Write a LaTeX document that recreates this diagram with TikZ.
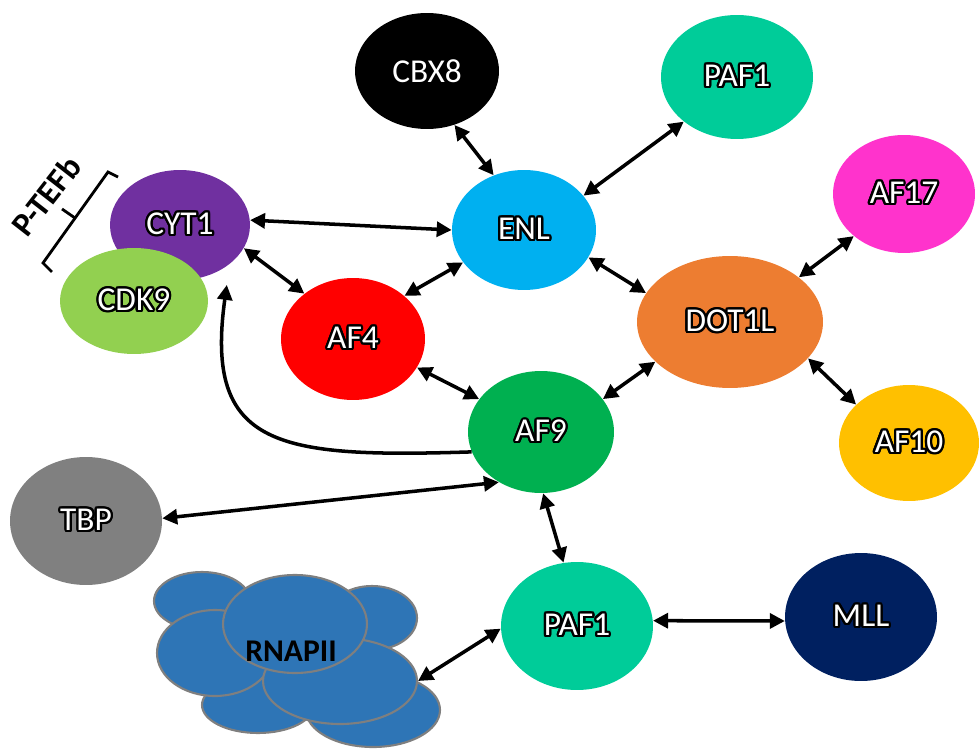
\documentclass[tikz,border=0pt]{standalone}
\usepackage{fontspec}
\setmainfont{Carlito}
\usepackage{contour}
\contourlength{1.3pt}
\usetikzlibrary{positioning, shapes.geometric, arrows.meta}

\definecolor{paf_teal}{RGB}{0,204,153}
\definecolor{enl_blue}{RGB}{0,176,240}
\definecolor{cyt_purple}{RGB}{112,48,160}
\definecolor{cdk_green}{RGB}{146,208,80}
\definecolor{af17_pink}{RGB}{255,51,204}
\definecolor{dot_orange}{RGB}{237,125,49}
\definecolor{af9_green}{RGB}{0,176,80}
\definecolor{af10_yellow}{RGB}{255,192,0}
\definecolor{tbp_gray}{RGB}{128,128,128}
\definecolor{mll_navy}{RGB}{0,32,96}
\definecolor{pol_blue}{RGB}{46,117,182}
\definecolor{pol_edge}{RGB}{127,127,127}

\begin{document}
\begin{tikzpicture}[x=0.02cm, y=0.02cm]


\tikzstyle{node_style} = [ellipse, inner sep=0pt, text=white, font=\fontsize{19}{22}\selectfont]
\tikzstyle{blob_style} = [ellipse, inner sep=0pt, fill=pol_blue, draw=pol_edge, line width=1.2pt]
\tikzstyle{edge_style} = [draw=black, line width=2pt, {Triangle[length=8.5pt,width=8.5pt]}-{Triangle[length=8.5pt,width=8.5pt]}]
\tikzstyle{curve_style} = [draw=black, line width=2pt, -{Triangle[length=8.5pt,width=8.5pt]}]
\tikzstyle{bracket_style} = [draw=black, line width=1.6pt]

\useasboundingbox (0,0) rectangle (979,-749);

\node[node_style, fill=black, minimum width=2.88cm, minimum height=2.32cm] (cbx8) at (427,-71) {CBX8};
\node[node_style, fill=paf_teal, minimum width=3.04cm, minimum height=2.48cm] (paf1_top) at (737,-77) {\contour{black}{PAF1}};
\node[node_style, fill=enl_blue, minimum width=2.88cm, minimum height=2.4cm] (enl) at (524,-230) {\contour{black}{ENL}};
\node[node_style, fill=cyt_purple, minimum width=2.8cm, minimum height=2.2cm] (cyt1) at (180,-225) {\contour{black}{CYT1}};
\node[node_style, fill=cdk_green, minimum width=2.96cm, minimum height=2.12cm] (cdk9) at (134,-301) {\contour{black}{CDK9}};
\node[node_style, fill=af17_pink, minimum width=2.84cm, minimum height=2.36cm] (af17) at (904,-194) {\contour{black}{AF17}};
\node[node_style, fill=dot_orange, minimum width=3.72cm, minimum height=2.64cm] (dot1l) at (730,-322) {\contour{black}{DOT1L}};
\node[node_style, fill=red, minimum width=2.88cm, minimum height=2.44cm] (af4) at (353,-339) {\contour{black}{AF4}};
\node[node_style, fill=af9_green, minimum width=2.92cm, minimum height=2.44cm] (af9) at (541,-432) {\contour{black}{AF9}};
\node[node_style, fill=af10_yellow, minimum width=2.8cm, minimum height=2.32cm] (af10) at (909,-443) {\contour{black}{AF10}};
\node[node_style, fill=tbp_gray, minimum width=3.04cm, minimum height=2.56cm] (tbp) at (86,-521) {\contour{black}{TBP}};
\node[node_style, fill=paf_teal, minimum width=3.04cm, minimum height=2.56cm] (paf1_bot) at (577,-626) {\contour{black}{PAF1}};
\node[node_style, fill=mll_navy, minimum width=3.04cm, minimum height=2.56cm] (mll) at (861,-617) {\contour{black}{MLL}};

% RNAPII cluster
\node[blob_style, minimum width=1.92cm, minimum height=1.16cm] (blob1) at (202,-601) {};
\node[blob_style, minimum width=1.8cm, minimum height=1.28cm] (blob2) at (372,-618) {};
\node[blob_style, minimum width=2.24cm, minimum height=1.12cm] (blob5) at (258,-705) {};
\node[blob_style, minimum width=2.68cm, minimum height=1.48cm] (blob6) at (373,-710) {};
\node[blob_style, minimum width=2.32cm, minimum height=1.72cm] (blob3) at (215,-653) {};
\node[blob_style, minimum width=3.08cm, minimum height=1.72cm] (blob7) at (340,-681) {};
\node[blob_style, minimum width=2.88cm, minimum height=1.96cm] (blob4) at (295,-624) {};
\node[font=\bfseries\fontsize{18}{20}\selectfont] (rnapii) at (291,-651) {RNAPII};

% P-TEFb bracket
\node[rotate=52, font=\bfseries\fontsize{19}{21}\selectfont] (ptefb) at (46,-196) {P-TEFb};
\draw[bracket_style] (118,-177) -- (108,-172) -- (43,-263) -- (52,-272);
\draw[bracket_style] (75,-218) -- (62,-209);

\draw[edge_style]  (cbx8.297) -- (enl.119);
\draw[edge_style]  (paf1_top.220) -- (enl.30);
\draw[edge_style]  (cyt1.4) -- (enl.180);
\draw[edge_style]  (cyt1.340) -- (af4.137);
\draw[edge_style]  (enl.208) -- (af4.40);
\draw[edge_style]  (enl.337) -- (dot1l.161);
\draw[edge_style]  (af17.220) -- (dot1l.33);
\draw[edge_style]  (dot1l.335) -- (af10.144);
\draw[edge_style]  (af4.336) -- (af9.152);
\draw[edge_style]  (dot1l.208) -- (af9.28);
\draw[edge_style]  (tbp.2) -- (af9.230);
\draw[edge_style]  (af9.272) -- (paf1_bot.102);
\draw[edge_style]  (blob7.east) -- (paf1_bot.182);
\draw[edge_style]  (paf1_bot.4) -- (mll.183);

\draw[curve_style, shorten >=0.42cm] (af9.196) .. controls (278,-458) and (204,-448) .. (cyt1.south east);

\end{tikzpicture}
\end{document}
